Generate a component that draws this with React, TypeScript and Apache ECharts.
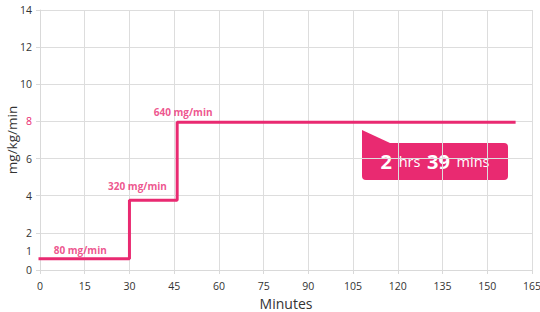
import React, { useEffect, useRef } from "react";
import * as echarts from "echarts";

// Infusion steps: start minute of each step and its rate (mg/kg/min)
const stepStartMinutes = [0, 30, 46];
const stepRates = [0.6, 3.75, 7.95];
const endMinute = 159;
const stepLabels = ["80 mg/min", "320 mg/min", "640 mg/min"];
const labelMinutes = [13.5, 32.7, 48];
const labelLevels = [1.1, 4.5, 8.5];
const xTicks = [0, 15, 30, 45, 60, 75, 90, 105, 120, 135, 150, 165];
const yTickLabels = [0, 1, 2, 4, 6, 8, 10, 12, 14];
const durationText = { hrs: "2", mins: "39" };

const PINK = "#e92a71";
const FONT = "'Open Sans', 'Noto Sans', sans-serif";

export default function App() {
  const ref = useRef<HTMLDivElement>(null);
  useEffect(() => {
    if (!ref.current) return;
    const chart = echarts.init(ref.current, null, { renderer: "svg" });
    const pts: number[][] = [];
    stepStartMinutes.forEach((m, i) => {
      const next = i + 1 < stepStartMinutes.length ? stepStartMinutes[i + 1] : endMinute;
      pts.push([m, stepRates[i]]);
      pts.push([next, stepRates[i]]);
    });
    const labelData = stepLabels.map((t, i) => ({ value: [labelMinutes[i], labelLevels[i]], name: t }));
    chart.setOption({
      animation: false,
      textStyle: { fontFamily: FONT },
      grid: { left: 40, right: 8, top: 10, bottom: 42, containLabel: false, outerBoundsMode: "none" },
      xAxis: {
        type: "value",
        min: 0,
        max: 165,
        interval: 15,
        name: "Minutes",
        nameLocation: "middle",
        nameGap: 26,
        nameMoveOverlap: false,
        nameTextStyle: { fontSize: 14, color: "#333", fontFamily: FONT },
        axisLine: { lineStyle: { color: "#d9d9d9" } },
        axisTick: { show: true, length: 4, lineStyle: { color: "#d9d9d9" } },
        axisLabel: { fontSize: 10.5, color: "#333", margin: 10, fontFamily: FONT,
          customValues: xTicks },
        splitLine: { show: true, lineStyle: { color: "#dddddd" } },
      },
      yAxis: [
        {
          type: "value",
          min: 0,
          max: 14,
          interval: 1,
          name: "mg/kg/min",
          nameLocation: "middle",
          nameGap: 21,
          nameMoveOverlap: false,
          nameTextStyle: { fontSize: 13.5, lineHeight: 14, color: "#333", fontFamily: FONT },
          axisLine: { show: true, lineStyle: { color: "#d9d9d9" } },
          axisTick: { show: false },
          axisLabel: {
            fontSize: 10.5,
            margin: 8,
            fontFamily: FONT,
            formatter: (v: number) => (yTickLabels.includes(v) ? String(v) : ""),
            color: (v: any) => (Number(v) === 8 ? PINK : "#333"),
          },
          splitLine: { show: false },
        },
        {
          type: "value",
          min: 0,
          max: 14,
          interval: 2,
          position: "left",
          offset: 0,
          axisLine: { show: false },
          axisTick: { show: true, length: 4, lineStyle: { color: "#d9d9d9" } },
          axisLabel: { show: false },
          splitLine: { show: true, lineStyle: { color: "#dddddd" } },
        },
      ],
      series: [
        {
          type: "line",
          data: pts,
          symbol: "none",
          lineStyle: { color: PINK, width: 3, cap: "square" },
          z: 3,
        },
        {
          type: "scatter",
          data: labelData,
          symbolSize: 0,
          label: {
            show: true,
            position: "inside",
            formatter: (p: any) => p.name,
            color: PINK,
            fontWeight: "bold",
            fontSize: 10,
            fontFamily: FONT,
          },
          z: 4,
        },
      ],
      graphic: [
        {
          type: "group",
          left: 362,
          top: 130,
          children: [
            {
              type: "polygon",
              shape: { points: [[0, 0], [28, 13], [0, 13]] },
              style: { fill: PINK },
            },
            {
              type: "rect",
              shape: { x: 0, y: 13, width: 146, height: 37, r: [0, 4, 4, 4] },
              style: { fill: PINK },
            },
            {
              type: "text",
              x: 73,
              y: 31.5,
              style: {
                text: `{b|${durationText.hrs}}  {r|hrs}  {b|${durationText.mins}}  {r|mins}`,
                align: "center",
                verticalAlign: "middle",
                rich: {
                  b: { fontSize: 20, fontWeight: "bold", fill: "#fff", fontFamily: FONT },
                  r: { fontSize: 14.5, fill: "#fff", fontFamily: FONT },
                },
              },
            },
          ],
        },
      ],
    });
    return () => chart.dispose();
  }, []);
  return <div ref={ref} style={{ width: 540, height: 312, position: "absolute", left: 0, top: 0 }} />;
}
